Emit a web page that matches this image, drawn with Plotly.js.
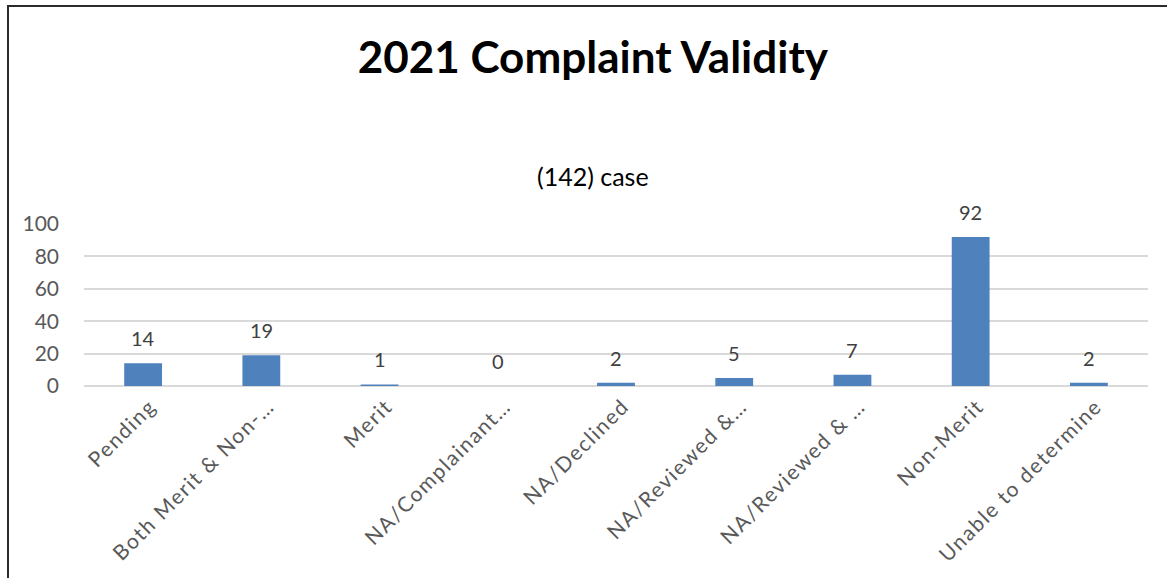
<!DOCTYPE html>
<html>
<head>
<meta charset="utf-8">
<script src="https://cdn.plot.ly/plotly-3.0.1.min.js"></script>
<style>
html,body{margin:0;padding:0;background:#fff;}
#wrap{position:relative;width:1167px;height:578px;overflow:hidden;}
#chart{width:1167px;height:578px;}
#frame{position:absolute;left:7px;top:5px;width:1200px;height:600px;border-top:2px solid #2b2b2b;border-left:2px solid #2b2b2b;pointer-events:none;}
#chart .xtick text{letter-spacing:1.6px;}
</style>
</head>
<body>
<div id="wrap"><div id="chart"></div><div id="frame"></div></div>
<script>
var categories = ["Pending", "Both Merit & Non-…", "Merit", "NA/Complainant…", "NA/Declined", "NA/Reviewed &…", "NA/Reviewed & …", "Non-Merit", "Unable to determine"];
var values = [14, 19, 1, 0, 2, 5, 7, 92, 2];
var yTicks = [0, 20, 40, 60, 80, 100];

var font = "Lato, 'Open Sans', sans-serif";

var annotations = categories.map(function(c, i){
  return {x: c, y: values[i], xref: 'x', yref: 'y', text: String(values[i]), showarrow: false,
          yanchor: 'bottom', yshift: 11, font: {family: font, size: 20, color: '#404040'}};
});
annotations.push({x: 0.478, y: 1.296, xref: 'paper', yref: 'paper', text: '(142) case', showarrow: false,
  yanchor: 'middle', font: {family: font, size: 25, color: '#000'}});

var trace = {type: 'bar', x: categories, y: values, marker: {color: '#4F81BD'}, hoverinfo: 'none'};

var layout = {
  width: 1167, height: 578,
  margin: {l: 84, r: 19, t: 224, b: 192},
  paper_bgcolor: '#fff', plot_bgcolor: '#fff',
  bargap: 0.68,
  showlegend: false,
  title: {text: '<b>2021 Complaint Validity</b>', x: 0.508, xanchor: 'center', y: 0.9, yref: 'container', yanchor: 'middle',
          font: {family: font, size: 44, color: '#000'}},
  xaxis: {type: 'category', tickangle: -45, automargin: false, showgrid: false, showline: false, ticks: '',
          ticklabelstandoff: 3, ticklabelshift: 7, tickfont: {family: font, size: 21, color: '#595959'}},
  yaxis: {range: [0, 100], tickvals: yTicks, ticktext: yTicks.map(String), automargin: false,
          showgrid: true, gridcolor: '#d9d9d9', gridwidth: 2, zeroline: true, zerolinecolor: '#d9d9d9', zerolinewidth: 2,
          ticks: '', ticklabelstandoff: 24, tickfont: {family: font, size: 21, color: '#595959'}},
  annotations: annotations
};

Plotly.newPlot('chart', [trace], layout, {displayModeBar: false, staticPlot: true});
</script>
</body>
</html>
